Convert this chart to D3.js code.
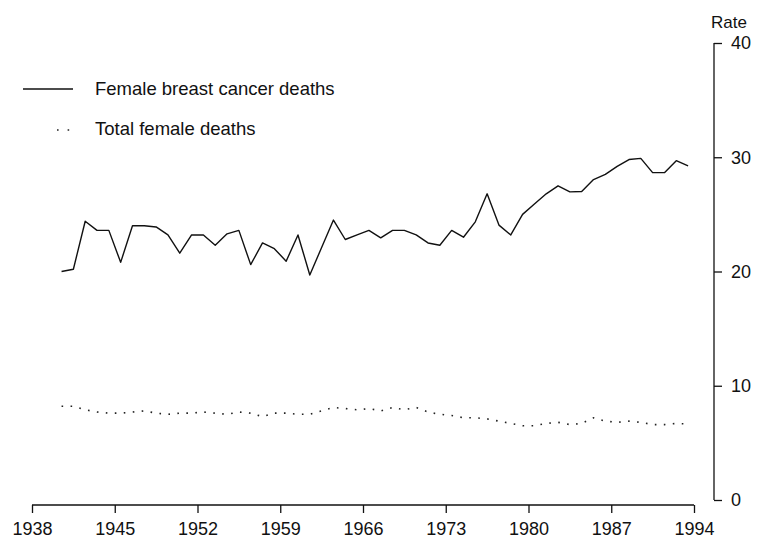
<!DOCTYPE html>
<html><head><meta charset="utf-8">
<script src="https://cdn.jsdelivr.net/npm/d3@7"></script>
<style>
html,body{margin:0;padding:0;background:#fff;}
text{font-family:"Liberation Sans",Arial,Helvetica,sans-serif;fill:#111;}
</style></head>
<body>
<svg id="chart" width="760" height="542"></svg>
<script>
const years = d3.range(1940, 1994);
const breastCancer = [20.0,20.2,24.4,23.6,23.6,20.8,24.0,24.0,23.9,23.2,
  21.6,23.2,23.2,22.3,23.3,23.6,20.6,22.5,22.0,20.9,
  23.2,19.7,22.1,24.5,22.8,23.2,23.6,22.95,23.6,23.6,
  23.2,22.5,22.3,23.6,23.0,24.35,26.8,24.06,23.2,25.0,
  25.9,26.8,27.5,26.97,27.0,28.05,28.5,29.2,29.8,29.9,
  28.65,28.65,29.7,29.25];
const totalFemale = [8.2,8.2,7.9,7.7,7.6,7.6,7.7,7.8,7.6,7.5,
  7.6,7.6,7.7,7.6,7.5,7.7,7.6,7.3,7.6,7.6,
  7.5,7.5,7.8,8.1,8.0,7.9,8.0,7.8,8.1,7.9,
  8.1,7.7,7.5,7.4,7.2,7.2,7.1,6.9,6.7,6.5,
  6.5,6.7,6.8,6.6,6.7,7.2,6.9,6.8,6.9,6.8,
  6.6,6.6,6.7,6.65];
const xTicks = [1938,1945,1952,1959,1966,1973,1980,1987,1994];
const yTicks = [0,10,20,30,40];
const seriesNames = ["Female breast cancer deaths","Total female deaths"];
const yAxisTitle = "Rate";

const svg = d3.select("#chart");
const x = d3.scaleLinear().domain([1938,1994]).range([32,694]);
const y = d3.scaleLinear().domain([0,40]).range([500,43]);
const axisY = 505, axisX = 714;

// x axis
const gx = svg.append("g").attr("transform",`translate(0,${axisY})`)
  .call(d3.axisBottom(x).tickValues(xTicks).tickFormat(d3.format("d")).tickSize(8).tickPadding(9));
gx.select(".domain").attr("d",`M${x(1938)},0H${x(1994)}`).attr("stroke","#111").attr("stroke-width",1.3);
gx.selectAll(".tick line").attr("stroke","#111").attr("stroke-width",1.3);
gx.selectAll(".tick text").style("font-size","18px").attr("fill","#111");

// y axis (right)
const gy = svg.append("g").attr("transform",`translate(${axisX},0)`)
  .call(d3.axisRight(y).tickValues(yTicks).tickSize(8).tickPadding(9));
gy.select(".domain").attr("d",`M0,${y(40)}V${y(0)}`).attr("stroke","#111").attr("stroke-width",1.3);
gy.selectAll(".tick line").attr("stroke","#111").attr("stroke-width",1.3);
gy.selectAll(".tick text").style("font-size","18px").attr("fill","#111");

svg.append("text").attr("x",axisX-3).attr("y",28).style("font-size","17px").text(yAxisTitle);

const line = d3.line().x((d,i)=>x(years[i]+0.5)).y(d=>y(d));

svg.append("path").datum(breastCancer).attr("d",line)
  .attr("fill","none").attr("stroke","#111").attr("stroke-width",1.4).attr("stroke-linejoin","round");
svg.append("path").datum(totalFemale).attr("d",line)
  .attr("fill","none").attr("stroke","#222").attr("stroke-width",1.6).attr("stroke-dasharray","1.6,7.4");

// legend
svg.append("line").attr("x1",23).attr("x2",73).attr("y1",89).attr("y2",89).attr("stroke","#111").attr("stroke-width",1.5);
svg.append("text").attr("x",95).attr("y",95).style("font-size","18.5px").text(seriesNames[0]);
svg.append("line").attr("x1",57).attr("x2",75).attr("y1",130).attr("y2",130).attr("stroke","#222").attr("stroke-width",1.6).attr("stroke-dasharray","1.6,9");
svg.append("text").attr("x",95).attr("y",135).style("font-size","18.5px").text(seriesNames[1]);
</script>
</body></html>
